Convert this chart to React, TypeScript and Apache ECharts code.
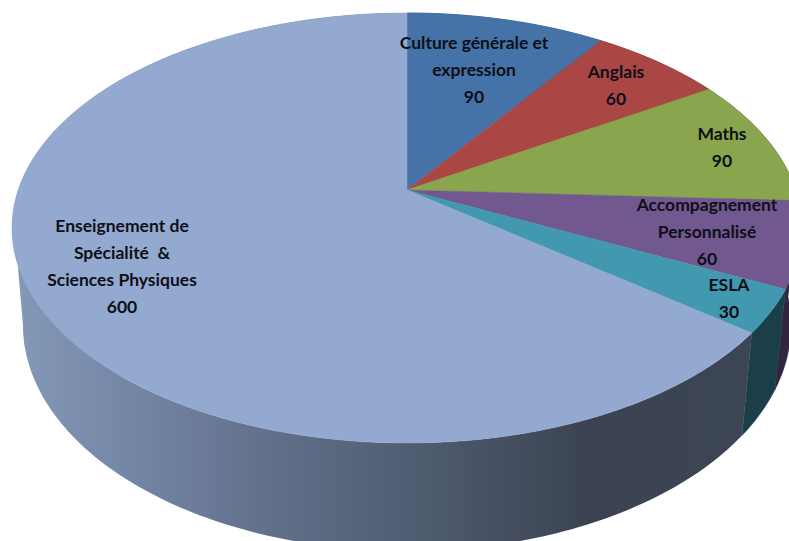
import React, { useEffect, useRef } from "react";
import * as echarts from "echarts";

const categories = [
  "Culture générale et\nexpression",
  "Anglais",
  "Maths",
  "Accompagnement\nPersonnalisé",
  "ESLA",
  "Enseignement de\nSpécialité  &\nSciences Physiques",
];
const values = [90, 60, 90, 60, 30, 600];
const topColors = ["#4572A7", "#AA4643", "#89A54E", "#71588F", "#4198AF", "#93A9CF"];
const wallColors = ["#23405f", "#5c2725", "#4b5c2a", "#33253F", "#1B3F48", "#3b4352"];
const labelCentres = [
  [474, 69],
  [616, 85],
  [722, 147],
  [707, 231],
  [729, 298],
  [122, 266],
];

const W = 789;
const H = 541;
const TOP = { cx: 407, cy: 228, rx: 395, ry: 215, apexUp: 38 };
const BOTTOM = { cx: 407, cy: 325, rx: 384, ry: 226 };
const total = values.reduce((a, b) => a + b, 0);
const persp = TOP.apexUp / TOP.ry;
const dx = TOP.rx * Math.sqrt(1 - persp * persp);

// offsets from the top ellipse's centre for a pie angle (clockwise from 12 o'clock)
function rimOffset(theta: number) {
  const s = Math.sin(theta);
  const c = Math.cos(theta);
  const w = 1 + persp * c;
  return [(dx * s) / w, (TOP.ry * c + TOP.apexUp) / w];
}
function topPoint(theta: number) {
  const [x, y] = rimOffset(theta);
  return [TOP.cx + x, TOP.cy - y];
}
function bottomPoint(theta: number) {
  const [x, y] = rimOffset(theta);
  return [BOTTOM.cx + (x * BOTTOM.rx) / TOP.rx, BOTTOM.cy - (y * BOTTOM.ry) / TOP.ry];
}
function angleRange(index: number) {
  let before = 0;
  for (let i = 0; i < index; i++) before += values[i];
  return [(before / total) * 2 * Math.PI, ((before + values[index]) / total) * 2 * Math.PI];
}
function arc(fn: (t: number) => number[], a: number, b: number) {
  const n = Math.max(2, Math.ceil(((b - a) * 180) / Math.PI));
  const pts: number[][] = [];
  for (let i = 0; i <= n; i++) pts.push(fn(a + ((b - a) * i) / n));
  return pts;
}
// left silhouette: straight edge tangent to both ellipses
function leftEdgePoint(e: { cx: number; cy: number; rx: number; ry: number }, sinT: number) {
  return [e.cx - e.rx * Math.sqrt(1 - sinT * sinT), e.cy + e.ry * sinT];
}

const bigWallFill = {
  type: "linear",
  global: true,
  x: 0,
  y: 0,
  x2: W,
  y2: 0,
  colorStops: [
    { offset: 16 / W, color: "#8498B8" },
    { offset: 130 / W, color: "#7486A5" },
    { offset: 260 / W, color: "#63718C" },
    { offset: 400 / W, color: "#515E73" },
    { offset: 590 / W, color: "#3B4352" },
    { offset: 1, color: "#3D4655" },
  ],
};

export default function App() {
  const ref = useRef<HTMLDivElement>(null);
  useEffect(() => {
    const chart = echarts.init(ref.current!, undefined, { renderer: "svg", width: W, height: H });
    const data = values.map((v, i) => ({ name: categories[i], value: v }));
    chart.setOption({
      animation: false,
      backgroundColor: "#fff",
      series: [
        {
          type: "custom",
          coordinateSystem: "none",
          silent: true,
          z: 1,
          data,
          renderItem: (p: any) => {
            const i = p.dataIndex;
            const [a, b] = angleRange(i);
            const points = arc(topPoint, a, b).concat(arc(bottomPoint, a, b).reverse());
            if (i !== values.length - 1) {
              return { type: "polygon", shape: { points }, style: { fill: wallColors[i], stroke: wallColors[i], lineWidth: 0.5 } };
            }
            return {
              type: "group",
              children: [
                { type: "polygon", shape: { points }, style: { fill: bigWallFill } },
                {
                  type: "polygon",
                  shape: { points: [leftEdgePoint(TOP, 0.17), leftEdgePoint(BOTTOM, 0.1), [120, 400], [120, 260]] },
                  style: { fill: bigWallFill },
                },
              ],
            };
          },
        },
        {
          type: "custom",
          coordinateSystem: "none",
          silent: true,
          z: 2,
          data,
          renderItem: (p: any) => {
            const i = p.dataIndex;
            const [a, b] = angleRange(i);
            const apex = [TOP.cx, TOP.cy - TOP.apexUp];
            const points = [apex].concat(arc(topPoint, a, b));
            return { type: "polygon", shape: { points }, style: { fill: topColors[i], stroke: topColors[i], lineWidth: 0.5 } };
          },
        },
        {
          type: "custom",
          coordinateSystem: "none",
          silent: true,
          z: 3,
          data,
          renderItem: (p: any, api: any) => {
            const i = p.dataIndex;
            return {
              type: "text",
              style: {
                text: categories[i] + "\n" + api.value(0),
                x: labelCentres[i][0],
                y: labelCentres[i][1],
                align: "center",
                verticalAlign: "middle",
                lineHeight: 27,
                fontFamily: "Lato, sans-serif",
                fontWeight: "bold",
                fontSize: 17.5,
                fill: "#0f0f18",
              },
            };
          },
        },
      ],
    });
    return () => chart.dispose();
  }, []);
  return <div ref={ref} style={{ position: "absolute", left: 0, top: 0, width: W, height: H }} />;
}
